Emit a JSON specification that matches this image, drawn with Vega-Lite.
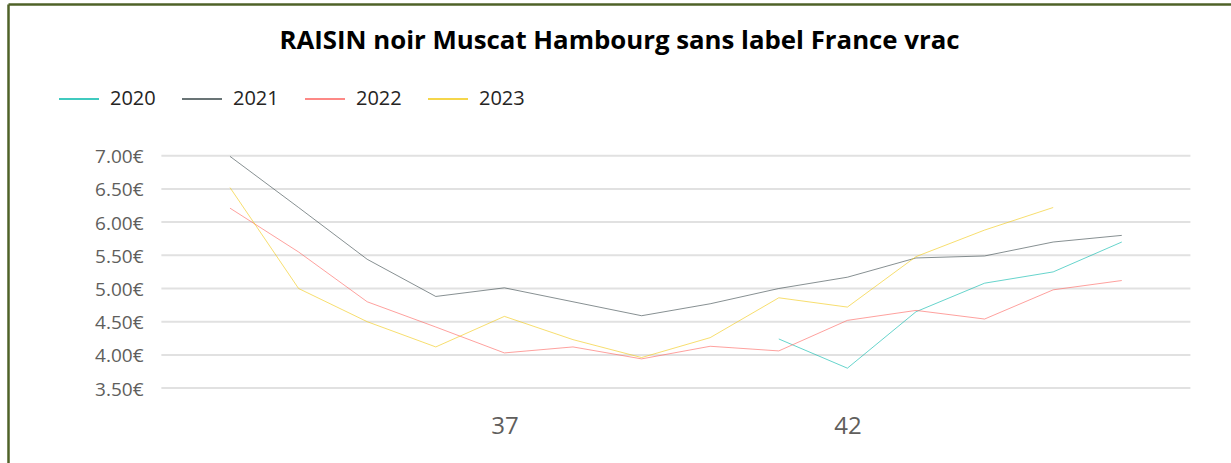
{
  "$schema": "https://vega.github.io/schema/vega-lite/v6.json",
  "width": 1223,
  "height": 459,
  "autosize": {"type": "none"},
  "padding": {"left": 8, "top": 4, "right": 0, "bottom": 0},
  "background": "#ffffff",
  "config": {
    "view": {"stroke": null},
    "font": "Open Sans"
  },
  "title": {
    "text": "RAISIN noir Muscat Hambourg sans label France vrac",
    "font": "Open Sans",
    "fontSize": 25.8,
    "fontWeight": "bold",
    "color": "#000000",
    "anchor": "middle",
    "frame": "group",
    "baseline": "alphabetic",
    "offset": -71
  },
  "datasets": {
    "grid": [
      {"g": 3.5}, {"g": 4.0}, {"g": 4.5}, {"g": 5.0}, {"g": 5.5}, {"g": 6.0}, {"g": 6.5}, {"g": 7.0}
    ],
    "prices": [
      {"week": 41, "year": "2020", "price": 4.24},
      {"week": 42, "year": "2020", "price": 3.80},
      {"week": 43, "year": "2020", "price": 4.65},
      {"week": 44, "year": "2020", "price": 5.08},
      {"week": 45, "year": "2020", "price": 5.25},
      {"week": 46, "year": "2020", "price": 5.70},
      {"week": 33, "year": "2021", "price": 6.99},
      {"week": 34, "year": "2021", "price": 6.22},
      {"week": 35, "year": "2021", "price": 5.44},
      {"week": 36, "year": "2021", "price": 4.88},
      {"week": 37, "year": "2021", "price": 5.01},
      {"week": 38, "year": "2021", "price": 4.80},
      {"week": 39, "year": "2021", "price": 4.59},
      {"week": 40, "year": "2021", "price": 4.77},
      {"week": 41, "year": "2021", "price": 5.00},
      {"week": 42, "year": "2021", "price": 5.17},
      {"week": 43, "year": "2021", "price": 5.46},
      {"week": 44, "year": "2021", "price": 5.49},
      {"week": 45, "year": "2021", "price": 5.70},
      {"week": 46, "year": "2021", "price": 5.80},
      {"week": 33, "year": "2022", "price": 6.21},
      {"week": 34, "year": "2022", "price": 5.55},
      {"week": 35, "year": "2022", "price": 4.80},
      {"week": 36, "year": "2022", "price": 4.42},
      {"week": 37, "year": "2022", "price": 4.03},
      {"week": 38, "year": "2022", "price": 4.12},
      {"week": 39, "year": "2022", "price": 3.94},
      {"week": 40, "year": "2022", "price": 4.13},
      {"week": 41, "year": "2022", "price": 4.06},
      {"week": 42, "year": "2022", "price": 4.52},
      {"week": 43, "year": "2022", "price": 4.67},
      {"week": 44, "year": "2022", "price": 4.54},
      {"week": 45, "year": "2022", "price": 4.98},
      {"week": 46, "year": "2022", "price": 5.12},
      {"week": 33, "year": "2023", "price": 6.52},
      {"week": 34, "year": "2023", "price": 5.00},
      {"week": 35, "year": "2023", "price": 4.50},
      {"week": 36, "year": "2023", "price": 4.12},
      {"week": 37, "year": "2023", "price": 4.58},
      {"week": 38, "year": "2023", "price": 4.23},
      {"week": 39, "year": "2023", "price": 3.96},
      {"week": 40, "year": "2023", "price": 4.26},
      {"week": 41, "year": "2023", "price": 4.86},
      {"week": 42, "year": "2023", "price": 4.72},
      {"week": 43, "year": "2023", "price": 5.48},
      {"week": 44, "year": "2023", "price": 5.88},
      {"week": 45, "year": "2023", "price": 6.22}
    ]
  },
  "layer": [
    {
      "data": {"name": "grid"},
      "mark": {"type": "rule", "color": "#e1e1e1", "strokeWidth": 2},
      "encoding": {
        "y": {
          "field": "g",
          "type": "quantitative",
          "scale": {"domain": [2.372, 9.2846], "nice": false, "zero": false},
          "axis": {
            "orient": "left",
            "title": null,
            "values": [3.5, 4.0, 4.5, 5.0, 5.5, 6.0, 6.5, 7.0],
            "labelExpr": "format(datum.value, '.2f') + '€'",
            "grid": false,
            "ticks": false,
            "tickSize": 0,
            "domain": true,
            "domainColor": "#4f6228",
            "domainWidth": 2.5,
            "labelFontSize": 19,
            "labelColor": "#605E5C",
            "labelFont": "Open Sans",
            "labelAlign": "right",
            "labelPadding": -135,
            "labelOffset": 1,
            "labelFlush": false
          }
        },
        "x": {
          "datum": 32,
          "type": "quantitative",
          "scale": {"domain": [29.764, 47.592], "nice": false, "zero": false},
          "axis": {
            "orient": "top",
            "title": null,
            "values": [37, 42],
            "grid": false,
            "ticks": false,
            "tickSize": 0,
            "domain": true,
            "domainColor": "#4f6228",
            "domainWidth": 2.5,
            "labelFontSize": 24,
            "labelColor": "#605E5C",
            "labelFont": "Open Sans",
            "labelBaseline": "alphabetic",
            "labelPadding": -429.5,
            "labelFlush": false
          }
        },
        "x2": {"datum": 47}
      }
    },
    {
      "data": {"name": "prices"},
      "mark": {"type": "line", "strokeWidth": 1, "opacity": 0.6},
      "encoding": {
        "x": {
          "field": "week",
          "type": "quantitative",
          "scale": {"domain": [29.764, 47.592], "nice": false, "zero": false},
          "axis": {
            "orient": "top",
            "title": null,
            "values": [37, 42],
            "grid": false,
            "ticks": false,
            "tickSize": 0,
            "domain": true,
            "domainColor": "#4f6228",
            "domainWidth": 2.5,
            "labelFontSize": 24,
            "labelColor": "#605E5C",
            "labelFont": "Open Sans",
            "labelBaseline": "alphabetic",
            "labelPadding": -429.5,
            "labelFlush": false
          }
        },
        "y": {
          "field": "price",
          "type": "quantitative",
          "scale": {"domain": [2.372, 9.2846], "nice": false, "zero": false},
          "axis": {
            "orient": "left",
            "title": null,
            "values": [3.5, 4.0, 4.5, 5.0, 5.5, 6.0, 6.5, 7.0],
            "labelExpr": "format(datum.value, '.2f') + '€'",
            "grid": false,
            "ticks": false,
            "tickSize": 0,
            "domain": true,
            "domainColor": "#4f6228",
            "domainWidth": 2.5,
            "labelFontSize": 19,
            "labelColor": "#605E5C",
            "labelFont": "Open Sans",
            "labelAlign": "right",
            "labelPadding": -135,
            "labelOffset": 1,
            "labelFlush": false
          }
        },
        "color": {
          "field": "year",
          "type": "nominal",
          "scale": {
            "domain": ["2020", "2021", "2022", "2023"],
            "range": ["#01B8AA", "#374649", "#FD625E", "#F2C80F"]
          },
          "legend": {
            "title": null,
            "orient": "none",
            "legendX": 50,
            "legendY": 74,
            "direction": "horizontal",
            "symbolType": "stroke",
            "symbolSize": 1600,
            "symbolStrokeWidth": 1.5,
            "symbolOpacity": 1,
            "labelFontSize": 20,
            "labelFont": "Open Sans",
            "labelColor": "#252423",
            "labelOffset": 10,
            "columnPadding": 23
          }
        }
      }
    }
  ]
}
